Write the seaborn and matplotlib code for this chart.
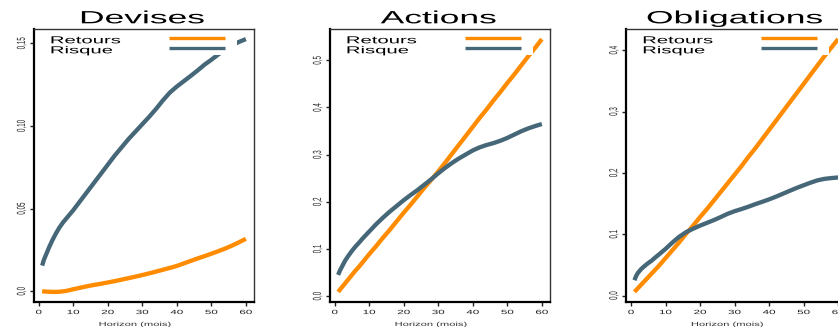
import matplotlib
matplotlib.use("Agg")
import matplotlib.pyplot as plt
import pandas as pd
import seaborn as sns
from matplotlib.patheffects import AbstractPathEffect
from matplotlib.transforms import Affine2D
from matplotlib.patches import Rectangle

# ---------------- data ----------------
horizon = [1, 1.5, 2, 3, 4, 5, 6, 7, 8, 10, 12, 14, 16, 18, 20, 22, 24, 26, 28, 30,
           32, 34, 36, 38, 40, 42, 44, 46, 48, 50, 52, 54, 56, 58, 60]

devises_retours = [0.0, -0.0001, -0.0002, -0.0003, -0.0004, -0.0004, -0.0003, -0.0001, 0.0002,
                   0.0012, 0.0021, 0.0030, 0.0038, 0.0045, 0.0053, 0.0061, 0.0070, 0.0079,
                   0.0088, 0.0098, 0.0108, 0.0119, 0.0130, 0.0141, 0.0153, 0.0168, 0.0183,
                   0.0198, 0.0212, 0.0227, 0.0242, 0.0258, 0.0276, 0.0296, 0.0317]
devises_risque = [0.0155, 0.019, 0.0215, 0.0265, 0.031, 0.035, 0.0385, 0.0415, 0.044,
                  0.049, 0.0545, 0.060, 0.0655, 0.071, 0.0765, 0.082, 0.087, 0.092,
                  0.0965, 0.101, 0.1055, 0.1103, 0.1155, 0.1202, 0.1238, 0.127, 0.1302,
                  0.1335, 0.137, 0.140, 0.1432, 0.1462, 0.1488, 0.1508, 0.1525]

actions_retours = [0.009, 0.0135, 0.018, 0.027, 0.036, 0.045, 0.054, 0.062, 0.071,
                   0.089, 0.106, 0.124, 0.141, 0.159, 0.177, 0.194, 0.212, 0.230,
                   0.247, 0.2645, 0.283, 0.302, 0.321, 0.340, 0.359, 0.378, 0.396,
                   0.415, 0.433, 0.452, 0.470, 0.489, 0.508, 0.526, 0.545]
actions_risque = [0.045, 0.054, 0.061, 0.075, 0.086, 0.096, 0.105, 0.113, 0.1215,
                  0.137, 0.1525, 0.1665, 0.1795, 0.1915, 0.2035, 0.2145, 0.225, 0.2365,
                  0.248, 0.2605, 0.272, 0.2825, 0.292, 0.3005, 0.309, 0.3155, 0.3205,
                  0.3245, 0.3295, 0.3355, 0.3425, 0.3495, 0.3555, 0.3605, 0.365]

obligations_retours = [0.006, 0.009, 0.012, 0.018, 0.024, 0.030, 0.036, 0.042, 0.048,
                       0.061, 0.074, 0.087, 0.101, 0.114, 0.128, 0.141, 0.155, 0.169,
                       0.183, 0.197, 0.211, 0.226, 0.240, 0.255, 0.270, 0.285, 0.300,
                       0.315, 0.330, 0.345, 0.360, 0.375, 0.390, 0.404, 0.418]
obligations_risque = [0.025, 0.032, 0.037, 0.0435, 0.0485, 0.053, 0.057, 0.062, 0.0665,
                      0.076, 0.0865, 0.096, 0.1035, 0.109, 0.114, 0.1185, 0.123, 0.128,
                      0.1333, 0.1375, 0.141, 0.1448, 0.149, 0.1528, 0.1568, 0.1612, 0.166,
                      0.1708, 0.1755, 0.1798, 0.184, 0.1878, 0.1902, 0.1915, 0.1925]

titles = ["Devises", "Actions", "Obligations"]
legend_labels = ["Retours", "Risque"]
x_label = "Horizon (mois)"
x_ticks = [0, 10, 20, 30, 40, 50, 60]

devises_yticks = [0.0, 0.05, 0.10, 0.15]
devises_yticklabels = ["0,0", "0,05", "0,10", "0,15"]
actions_yticks = [0.0, 0.1, 0.2, 0.3, 0.4, 0.5]
actions_yticklabels = ["0,0", "0,1", "0,2", "0,3", "0,4", "0,5"]
obligations_yticks = [0.0, 0.1, 0.2, 0.3, 0.4]
obligations_yticklabels = ["0,0", "0,1", "0,2", "0,3", "0,4"]

ORANGE = "#FF8C00"
SLATE = "#456778"


# horizontal stretch of text glyphs (the reference is a horizontally stretched R plot)
class HStretch(AbstractPathEffect):
    def __init__(self, sx=2.0, anchor="center"):
        super().__init__()
        self.sx = sx
        self.anchor = anchor

    def draw_path(self, renderer, gc, tpath, affine, rgbFace=None):
        bb = tpath.get_extents(affine)
        if self.anchor == "left":
            x0 = bb.x0
        elif self.anchor == "right":
            x0 = bb.x1
        else:
            x0 = 0.5 * (bb.x0 + bb.x1)
        t = affine + Affine2D().translate(-x0, 0).scale(self.sx, 1.0).translate(x0, 0)
        renderer.draw_path(gc, tpath, t, rgbFace)


sns.set_style("white")
plt.rcParams["font.family"] = ["Liberation Sans", "DejaVu Sans"]

W, H = 838, 327
fig = plt.figure(figsize=(W / 100, H / 100), dpi=100)
fig.patch.set_facecolor("white")

panels = [
    (devises_retours, devises_risque, devises_yticks, devises_yticklabels),
    (actions_retours, actions_risque, actions_yticks, actions_yticklabels),
    (obligations_retours, obligations_risque, obligations_yticks, obligations_yticklabels),
]
lefts = [34, 330, 626.3]
ax_w, ax_top, ax_bot = 220, 29, 302
ax_h = ax_bot - ax_top

for i, (ret, ris, yt, ytl) in enumerate(panels):
    ax = fig.add_axes([lefts[i] / W, (H - ax_bot) / H, ax_w / W, ax_h / H])
    df = pd.DataFrame({"Horizon": horizon, "Retours": ret, "Risque": ris})
    sns.lineplot(data=df, x="Horizon", y="Retours", color=ORANGE, lw=3.1,
                 solid_capstyle="butt", solid_joinstyle="round", ax=ax, zorder=2)
    sns.lineplot(data=df, x="Horizon", y="Risque", color=SLATE, lw=3.1,
                 solid_capstyle="butt", solid_joinstyle="round", ax=ax, zorder=2.1)

    # R-like 4% padding
    lo = min(min(ret), min(ris))
    hi = max(max(ret), max(ris))
    pad = 0.04 * (hi - lo)
    ax.set_ylim(lo - pad, hi + pad)
    ax.set_xlim(1 - 0.04 * 59, 60 + 0.04 * 59)
    ax.grid(False)

    # spines
    for s in ["left", "bottom"]:
        ax.spines[s].set_linewidth(1.6)
        ax.spines[s].set_color("black")
    for s in ["top", "right"]:
        ax.spines[s].set_linewidth(1.0)
        ax.spines[s].set_color("#333333")

    # ticks
    ax.set_xticks(x_ticks, [str(v) for v in x_ticks])
    ax.set_yticks(yt, ytl, rotation=90, va="center")
    ax.tick_params(axis="x", bottom=True, direction="out", length=2.6, width=1.0,
                   pad=3.2, labelsize=4.4, colors="#222222")
    ax.tick_params(axis="y", left=True, direction="out", length=3.0, width=1.0,
                   pad=2.4, labelsize=4.5, colors="#222222")
    for lbl in ax.get_xticklabels():
        lbl.set_path_effects([HStretch(1.9, "center")])
    for lbl in ax.get_yticklabels():
        lbl.set_va("center")
        lbl.set_path_effects([HStretch(1.85, "right")])

    # labels
    ax.set_ylabel("")
    ax.set_xlabel(x_label, fontsize=4.3, color="#333333", va="baseline")
    ax.xaxis.set_label_coords(0.459, -(326 - ax_bot) / ax_h)
    ax.xaxis.label.set_path_effects([HStretch(1.87, "center")])

    ax.set_title(titles[i], fontsize=12.75, color="black", y=1 + (ax_top - 23.3) / ax_h,
                 x=0.493, pad=0, va="baseline")
    ax.title.set_path_effects([HStretch(2.0, "center")])

    # legend (white box, text on left, keys on right)
    box_h = 25.5 / ax_h
    ax.add_patch(Rectangle((0, 1 - box_h), 203 / ax_w, box_h, transform=ax.transAxes,
                           facecolor="white", edgecolor="none", zorder=2.3))
    key_y = [1 - (37.5 - ax_top) / ax_h, 1 - (47.8 - ax_top) / ax_h]
    txt_y = [1 - (43.3 - ax_top) / ax_h, 1 - (53.3 - ax_top) / ax_h]
    for lab, col, ky, ty in zip(legend_labels, [ORANGE, SLATE], key_y, txt_y):
        ax.plot([135 / ax_w, 191 / ax_w], [ky, ky], transform=ax.transAxes, color=col,
                lw=2.4, solid_capstyle="butt", zorder=3, clip_on=False)
        t = ax.text(16.7 / ax_w, ty, lab, transform=ax.transAxes, fontsize=7.3,
                    color="black", ha="left", va="baseline", zorder=3)
        t.set_path_effects([HStretch(2.0, "left")])

fig.savefig("out.png", dpi=100, facecolor="white")
